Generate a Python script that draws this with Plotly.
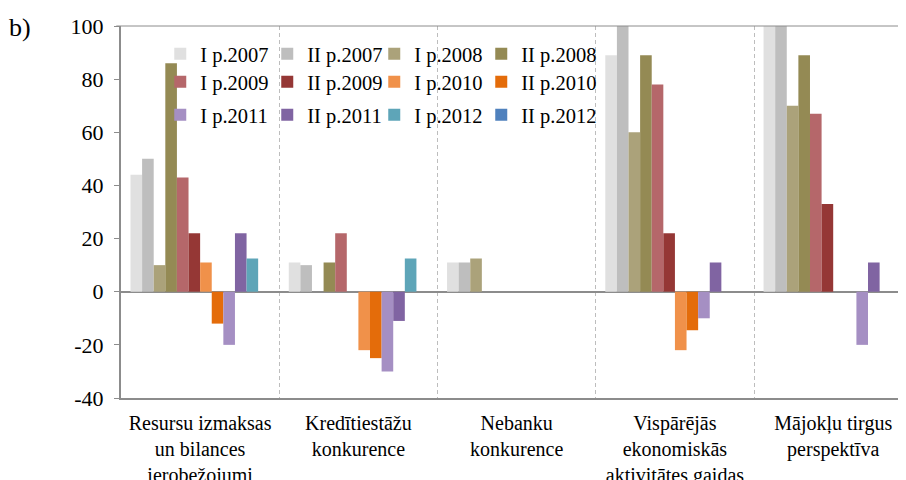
import plotly.graph_objects as go

categories = [
    "Resursu izmaksas<br>un bilances<br>ierobežojumi",
    "Kredītiestāžu<br>konkurence",
    "Nebanku<br>konkurence",
    "Vispārējās<br>ekonomiskās<br>aktivitātes gaidas",
    "Mājokļu tirgus<br>perspektīva",
]

series_names = [
    "I p.2007", "II p.2007", "I p.2008", "II p.2008",
    "I p.2009", "II p.2009", "I p.2010", "II p.2010",
    "I p.2011", "II p.2011", "I p.2012", "II p.2012",
]

i_2007 = [44, 11, 11, 89, 100]
ii_2007 = [50, 10, 11, 100, 100]
i_2008 = [10, 0, 12.5, 60, 70]
ii_2008 = [86, 11, 0, 89, 89]
i_2009 = [43, 22, 0, 78, 67]
ii_2009 = [22, 0, 0, 22, 33]
i_2010 = [11, -22, 0, -22, 0]
ii_2010 = [-12, -25, 0, -14.5, 0]
i_2011 = [-20, -30, 0, -10, -20]
ii_2011 = [22, -11, 0, 11, 11]
i_2012 = [12.5, 12.5, 0, 0, 0]
ii_2012 = [0, 0, 0, 0, 0]

series_values = [i_2007, ii_2007, i_2008, ii_2008, i_2009, ii_2009,
                 i_2010, ii_2010, i_2011, ii_2011, i_2012, ii_2012]

colors = ["#E0E0E0", "#BEBEBE", "#ABA27A", "#948A54",
          "#B5676A", "#953735", "#F0914A", "#E46C0A",
          "#A58FC3", "#8064A2", "#5EA5B8", "#4F81BD"]

y_ticks = [-40, -20, 0, 20, 40, 60, 80, 100]
y_tick_labels = [str(v) for v in y_ticks]

FONT = "Liberation Serif, Times New Roman, serif"

legend_ids = ["legend", "legend2", "legend3"]

fig = go.Figure()
for k, (name, vals, col) in enumerate(zip(series_names, series_values, colors)):
    fig.add_trace(go.Bar(
        x=categories, y=vals, name=name,
        marker=dict(color=col, line=dict(width=0)),
        legend=legend_ids[k // 4],
    ))

# invisible spacer entries so the last legend column is not clipped
for lid in legend_ids:
    fig.add_trace(go.Scatter(
        x=[categories[0]], y=[None], name=" ", mode="markers",
        marker=dict(color="rgba(0,0,0,0)", size=1),
        legend=lid, hoverinfo="skip",
    ))

def legend_row(ypos):
    return dict(
        orientation="h", x=0.05, y=ypos, xanchor="left", yanchor="middle",
        bgcolor="rgba(0,0,0,0)", font=dict(family=FONT, size=20.5),
        entrywidth=62, entrywidthmode="pixels", itemwidth=30,
        traceorder="normal",
    )

fig.update_layout(
    width=906, height=480,
    margin=dict(l=113, r=8, t=18, b=90, autoexpand=False),
    paper_bgcolor="white", plot_bgcolor="white",
    barmode="group", bargap=0.12, bargroupgap=0,
    font=dict(family=FONT, size=20, color="black"),
    showlegend=True,
    legend=legend_row(0.925),
    legend2=legend_row(0.850),
    legend3=legend_row(0.761),
    xaxis=dict(
        type="category", range=[-0.5, 4.46], automargin=False,
        showline=True, linecolor="#8C8C8C", linewidth=2,
        tickson="boundaries", ticks="", showgrid=True,
        gridcolor="#BDBDBD", gridwidth=1, griddash="4px,3px",
        tickfont=dict(family=FONT, size=20),
        ticklabelstandoff=6,
    ),
    yaxis=dict(
        range=[-40, 100], tickvals=y_ticks, ticktext=y_tick_labels, automargin=False,
        showline=True, linecolor="#8C8C8C", linewidth=2,
        ticks="outside", ticklen=5, tickcolor="#8C8C8C", tickwidth=1,
        showgrid=False, zeroline=True, zerolinecolor="#8C8C8C", zerolinewidth=2,
        tickfont=dict(family=FONT, size=22),
        ticklabelstandoff=6,
    ),
    shapes=[dict(type="line", xref="paper", yref="paper", x0=-0.006, x1=1, y0=1, y1=1,
                 line=dict(color="#8C8C8C", width=1))],
    annotations=[dict(text="b)", xref="paper", yref="paper", x=-0.145, y=0.995,
                      xanchor="left", yanchor="middle", showarrow=False,
                      font=dict(family=FONT, size=26))],
)

fig.write_html("out.html")
